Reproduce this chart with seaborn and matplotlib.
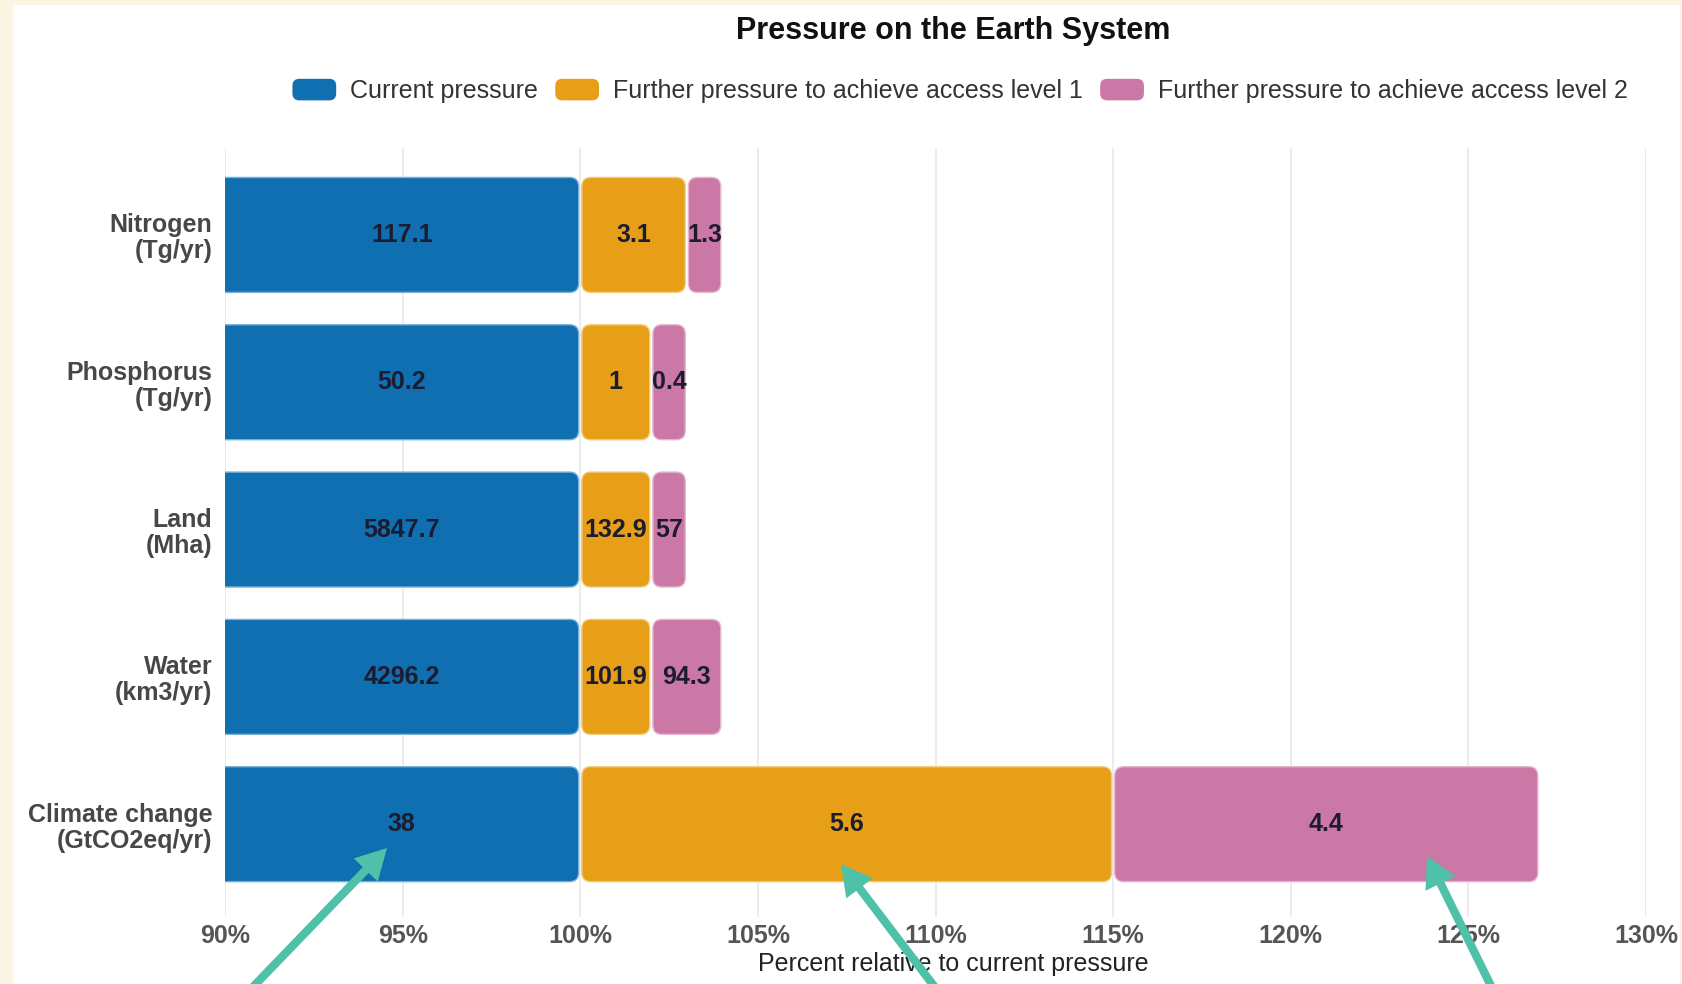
import numpy as np
import pandas as pd
import matplotlib
matplotlib.use("Agg")
import matplotlib.pyplot as plt
import seaborn as sns
from matplotlib.patches import FancyBboxPatch, Rectangle, Patch, FancyArrowPatch
from matplotlib.legend_handler import HandlerPatch
from matplotlib.colors import to_rgb

# ---- data -------------------------------------------------------------
categories = [
    "Nitrogen\n(Tg/yr)",
    "Phosphorus\n(Tg/yr)",
    "Land\n(Mha)",
    "Water\n(km3/yr)",
    "Climate change\n(GtCO2eq/yr)",
]
current = [117.1, 50.2, 5847.7, 4296.2, 38]
level1 = [3.1, 1, 132.9, 101.9, 5.6]
level2 = [1.3, 0.4, 57, 94.3, 4.4]

series_names = [
    "Current pressure",
    "Further pressure to achieve access level 1",
    "Further pressure to achieve access level 2",
]
series_colors = ["#0f6fb1", "#e69f17", "#cc78a6"]
x_ticks = [90, 95, 100, 105, 110, 115, 120, 125, 130]

title = "Pressure on the Earth System"
x_label = "Percent relative to current pressure"

# ---- figure geometry (pixels) ---------------------------------------------
W, H = 1683, 984
AX_L, AX_R, AX_T, AX_B = 225, 1646, 148, 917
Y_LIM = (4.63, -0.59)

sns.set_theme(style="white")
plt.rcParams["font.family"] = ["Liberation Sans", "DejaVu Sans"]

cur = np.array(current, dtype=float)
pct_cur = np.full(len(cur), 100.0)
pct_l1 = np.round(100 * np.array(level1) / cur)
pct_l2 = np.round(100 * np.array(level2) / cur)

df = pd.DataFrame({
    "category": categories,
    "current": pct_cur,
    "to_level1": pct_cur + pct_l1,
    "to_level2": pct_cur + pct_l1 + pct_l2,
})

cream = "#fdf5e3"
fig = plt.figure(figsize=(W / 100, H / 100), dpi=100, facecolor=cream)
fig.add_artist(Rectangle((13 / W, 0), (1680 - 13) / W, 1 - 5 / H,
                         transform=fig.transFigure, facecolor="white",
                         edgecolor="none", zorder=-5))

ax = fig.add_axes([AX_L / W, 1 - AX_B / H, (AX_R - AX_L) / W, (AX_B - AX_T) / H])
ax.set_facecolor("white")

# cumulative layers, widest first
for col, color in zip(["to_level2", "to_level1", "current"], series_colors[::-1]):
    sns.barplot(data=df, x=col, y="category", color=color, orient="h",
                width=0.78, saturation=1, errorbar=None, ax=ax)

ax.set_xlim(x_ticks[0], x_ticks[-1])
ax.set_ylim(*Y_LIM)

# turn the layered bars into separated, rounded segments
rects = list(ax.patches)
n = len(categories)
pink_r, orange_r, blue_r = rects[:n], rects[n:2 * n], rects[2 * n:3 * n]
for r in rects:
    r.remove()

px_per_x = (AX_R - AX_L) / (x_ticks[-1] - x_ticks[0])
px_per_y = (AX_B - AX_T) / abs(Y_LIM[0] - Y_LIM[1])
radius_px = 9
rx = radius_px / px_per_x
aspect = px_per_x / px_per_y
gap = 0.09


def lighten(c, f=0.45):
    r, g, b = to_rgb(c)
    return (r + (1 - r) * f, g + (1 - g) * f, b + (1 - b) * f)


values_by_series = [current, level1, level2]
for i in range(n):
    bounds = [0.0, blue_r[i].get_width(), orange_r[i].get_width(), pink_r[i].get_width()]
    y0 = blue_r[i].get_y()
    h = blue_r[i].get_height()
    for k in range(3):
        x0 = bounds[k] + (gap / 2 if k > 0 else 0)
        x1 = bounds[k + 1] - gap / 2
        box = FancyBboxPatch((x0, y0), x1 - x0, h,
                             boxstyle=f"round,pad=0,rounding_size={rx}",
                             mutation_aspect=aspect,
                             facecolor=series_colors[k],
                             edgecolor=lighten(series_colors[k]), lw=1.0,
                             zorder=2)
        ax.add_patch(box)
        xc = (max(x0, x_ticks[0]) + x1) / 2
        ax.text(xc, y0 + h / 2, f"{values_by_series[k][i]:g}", ha="center",
                va="center", fontsize=18, fontweight="bold", color="#1c1c30",
                zorder=3)

# axes styling
ax.set_xticks(x_ticks)
ax.set_xticklabels([f"{t}%" for t in x_ticks])
ax.xaxis.grid(True, color="#ebebeb", lw=1.3)
ax.yaxis.grid(False)
ax.set_axisbelow(True)
sns.despine(ax=ax, left=True, bottom=True)
ax.tick_params(axis="both", length=0)
ax.tick_params(axis="x", pad=5, labelsize=18, labelcolor="#555555")
ax.tick_params(axis="y", pad=9, labelsize=18, labelcolor="#474747")
for lab in ax.get_xticklabels():
    lab.set_fontweight("bold")
for lab in ax.get_yticklabels():
    lab.set_fontweight("bold")
    lab.set_linespacing(1.1)
ax.set_xlabel("")
ax.set_ylabel("")

# titles
fig.text(953 / W, 1 - 31 / H, title, ha="center", va="center",
         fontsize=22, fontweight="bold", color="#111111")
fig.text(953 / W, 1 - 964 / H, x_label, ha="center", va="center",
         fontsize=18, color="#222222")


# legend with rounded swatches
def rounded_handle(legend, orig_handle, xdescent, ydescent, width, height, fontsize):
    return FancyBboxPatch((-xdescent, -ydescent), width, height,
                          boxstyle="round,pad=0,rounding_size=5")


handles = [Patch(facecolor=c, edgecolor="none", label=s)
           for c, s in zip(series_colors, series_names)]
leg = fig.legend(handles=handles, loc="center", bbox_to_anchor=(960 / W, 1 - 91 / H),
                 ncol=3, frameon=False, fontsize=18, handlelength=1.75,
                 handleheight=0.95, handletextpad=0.55, columnspacing=0.7,
                 handler_map={Patch: HandlerPatch(patch_func=rounded_handle)})
for t in leg.get_texts():
    t.set_color("#333333")

# pointer arrows onto the climate change figures
teal = "#4fc1a9"
arrows = [((250, 990), (387, 848)), ((937, 990), (841, 864)), ((1493, 990), (1427, 856))]
for (tx, ty), (hx, hy) in arrows:
    fig.add_artist(FancyArrowPatch(
        (tx / W, 1 - ty / H), (hx / W, 1 - hy / H), transform=fig.transFigure,
        arrowstyle="simple,head_length=2.2,head_width=2.4,tail_width=0.6",
        mutation_scale=10, color=teal, lw=0, zorder=10,
        shrinkA=0, shrinkB=0))

fig.savefig("out.png", dpi=100, facecolor=cream)
